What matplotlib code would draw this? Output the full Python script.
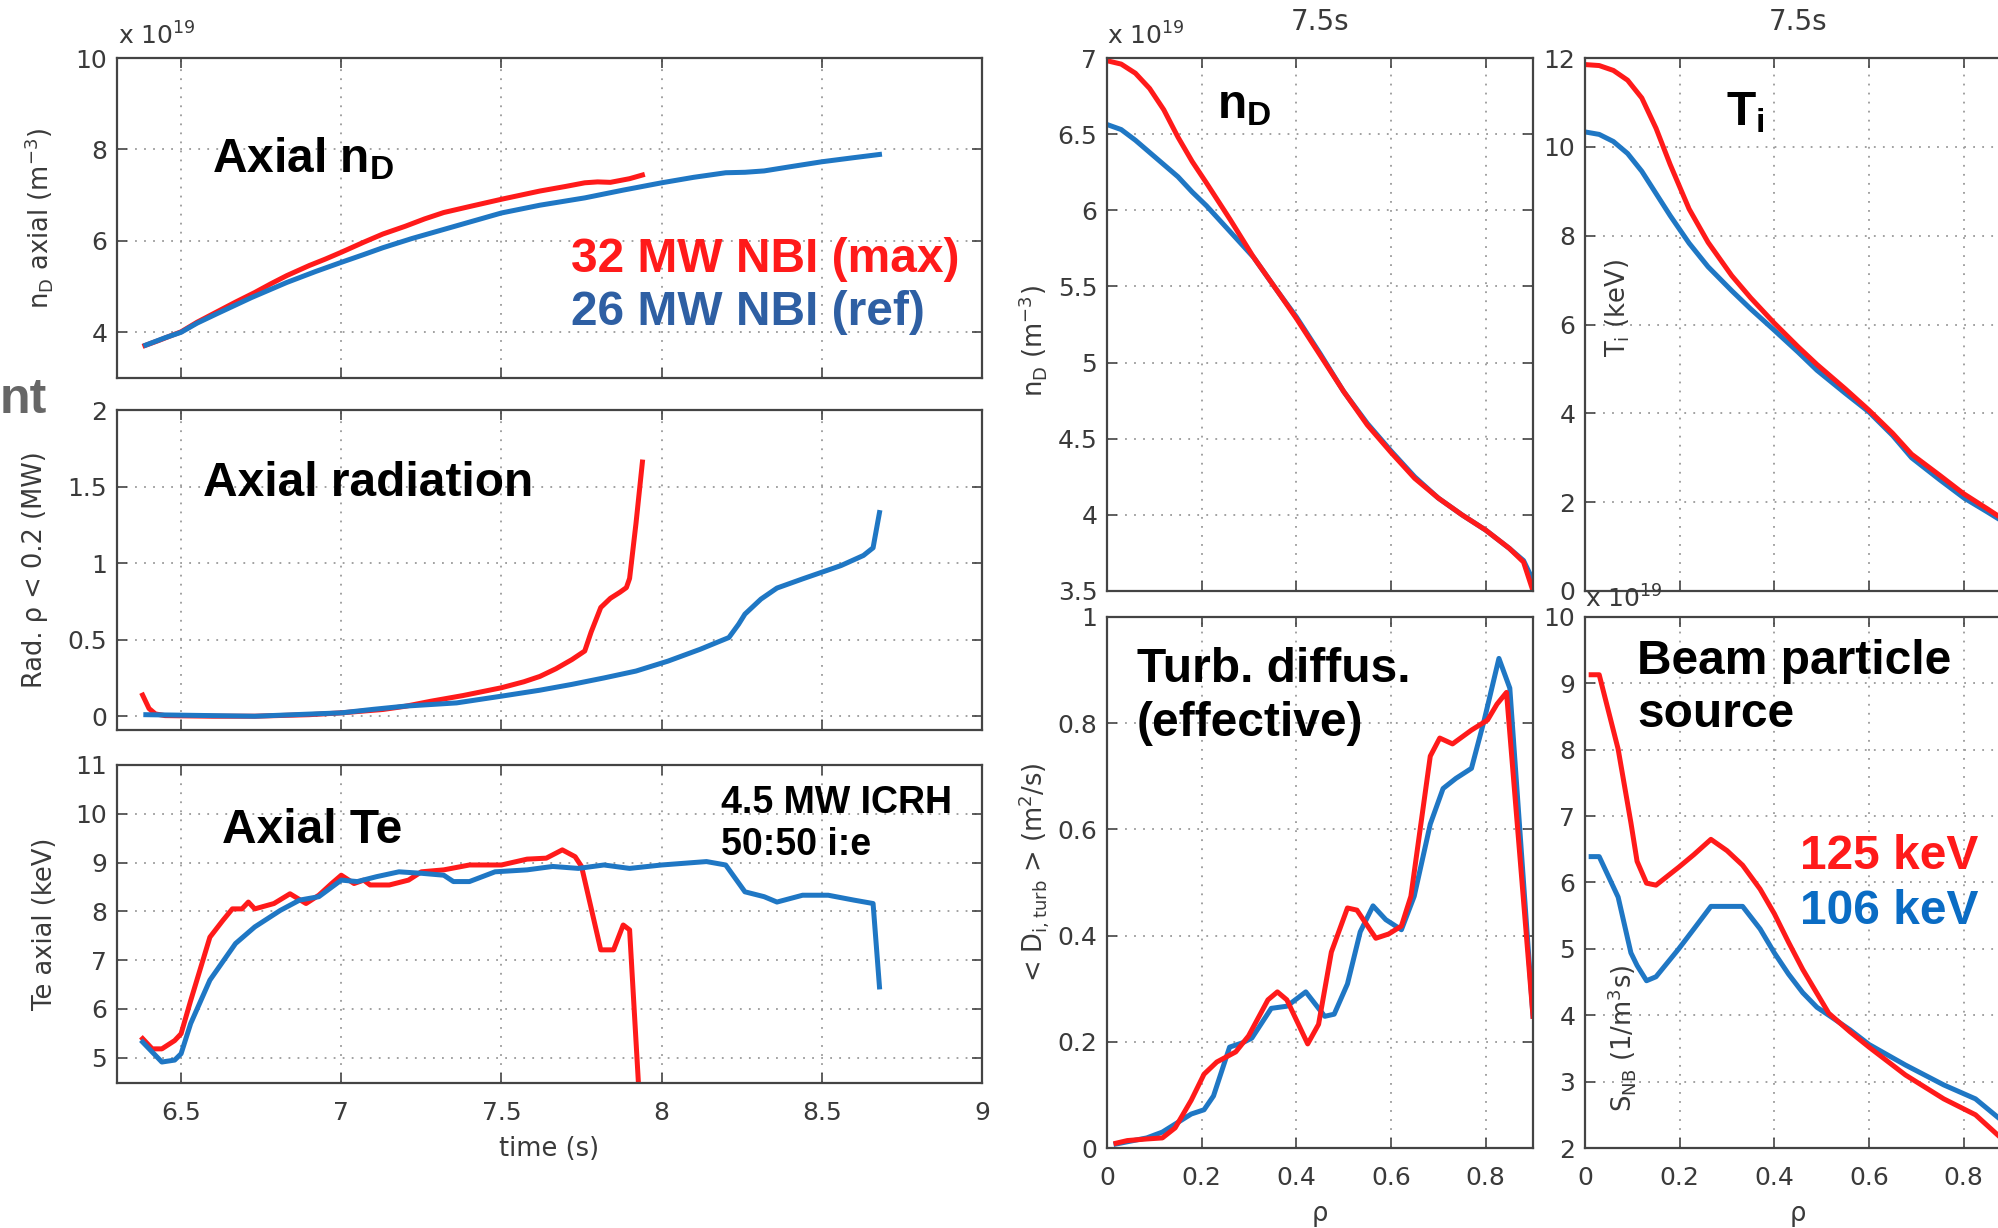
import matplotlib
matplotlib.use("Agg")
import matplotlib.pyplot as plt
from matplotlib.ticker import FuncFormatter

plt.rcParams["font.family"] = ["DejaVu Sans"]
plt.rcParams["mathtext.fontset"] = "custom"
plt.rcParams["mathtext.rm"] = "DejaVu Sans"
plt.rcParams["mathtext.it"] = "DejaVu Sans:italic"
plt.rcParams["mathtext.bf"] = "Liberation Sans:bold"

RED = "#ff1a1a"
BLUE = "#1f77c4"

# ---- time traces (left column) ----
t_nd_max = [6.387, 6.43, 6.47, 6.50, 6.55, 6.61, 6.67, 6.73, 6.78, 6.83, 6.90, 6.95, 7.00, 7.07, 7.13,
            7.20, 7.26, 7.32, 7.40, 7.50, 7.56, 7.62, 7.70, 7.76, 7.80, 7.84, 7.90, 7.94]
nd_max = [3.71, 3.82, 3.93, 4.01, 4.22, 4.44, 4.66, 4.87, 5.06, 5.24, 5.46, 5.60, 5.75, 5.97, 6.15,
          6.32, 6.48, 6.62, 6.75, 6.91, 7.00, 7.09, 7.19, 7.27, 7.29, 7.28, 7.36, 7.44]
t_nd_ref = [6.39, 6.45, 6.50, 6.55, 6.61, 6.72, 6.83, 6.92, 7.00, 7.07, 7.13, 7.22, 7.32, 7.41, 7.50,
            7.62, 7.76, 7.88, 8.00, 8.10, 8.20, 8.26, 8.32, 8.40, 8.50, 8.60, 8.68]
nd_ref = [3.72, 3.88, 4.00, 4.20, 4.40, 4.76, 5.09, 5.33, 5.53, 5.70, 5.85, 6.05, 6.25, 6.43, 6.61,
          6.78, 6.94, 7.11, 7.27, 7.39, 7.49, 7.50, 7.53, 7.62, 7.73, 7.82, 7.89]

t_rad_max = [6.38, 6.40, 6.42, 6.45, 6.60, 6.73, 6.90, 7.00, 7.13, 7.20, 7.28, 7.38, 7.50, 7.57, 7.62,
             7.67, 7.72, 7.76, 7.78, 7.81, 7.84, 7.87, 7.89, 7.90, 7.92, 7.94]
rad_max = [0.138, 0.05, 0.015, 0.004, 0.0, 0.0, 0.01, 0.022, 0.044, 0.065, 0.098, 0.135, 0.186, 0.225,
           0.26, 0.31, 0.37, 0.426, 0.55, 0.71, 0.77, 0.81, 0.84, 0.90, 1.26, 1.66]
t_rad_ref = [6.39, 6.73, 7.00, 7.10, 7.20, 7.36, 7.50, 7.62, 7.72, 7.82, 7.92, 8.02, 8.12, 8.21, 8.24,
             8.26, 8.31, 8.36, 8.44, 8.56, 8.63, 8.66, 8.68]
rad_ref = [0.01, 0.0, 0.022, 0.045, 0.066, 0.087, 0.131, 0.17, 0.208, 0.25, 0.295, 0.36, 0.437, 0.514,
           0.60, 0.667, 0.765, 0.837, 0.897, 0.984, 1.05, 1.10, 1.33]

t_te_max = [6.38, 6.41, 6.44, 6.48, 6.50, 6.53, 6.59, 6.63, 6.66, 6.69, 6.71, 6.73, 6.79, 6.84, 6.89, 6.93,
            6.97, 7.00, 7.04, 7.07, 7.09, 7.15, 7.21, 7.25, 7.32, 7.40, 7.50, 7.58, 7.64, 7.69, 7.73, 7.75,
            7.81, 7.85, 7.88, 7.90, 7.93]
te_max = [5.39, 5.18, 5.18, 5.35, 5.49, 6.17, 7.47, 7.81, 8.05, 8.05, 8.19, 8.05, 8.16, 8.36, 8.16, 8.33,
          8.57, 8.74, 8.57, 8.64, 8.54, 8.54, 8.64, 8.81, 8.85, 8.95, 8.95, 9.07, 9.09, 9.26, 9.12, 8.92,
          7.21, 7.21, 7.72, 7.62, 4.2]
t_te_ref = [6.38, 6.44, 6.48, 6.50, 6.53, 6.59, 6.67, 6.73, 6.81, 6.87, 6.93, 7.00, 7.05, 7.11, 7.18, 7.25,
            7.32, 7.35, 7.40, 7.48, 7.58, 7.66, 7.74, 7.82, 7.90, 8.00, 8.08, 8.14, 8.20, 8.26, 8.32, 8.36,
            8.44, 8.52, 8.60, 8.66, 8.68]
te_ref = [5.32, 4.91, 4.95, 5.08, 5.70, 6.59, 7.34, 7.68, 8.02, 8.23, 8.30, 8.64, 8.61, 8.71, 8.81, 8.78,
          8.74, 8.61, 8.61, 8.81, 8.85, 8.92, 8.88, 8.95, 8.88, 8.95, 8.99, 9.02, 8.95, 8.40, 8.30, 8.19,
          8.33, 8.33, 8.23, 8.16, 6.45]

# ---- profiles at 7.5 s (right columns) ----
rho_nd = [0.003, 0.03, 0.06, 0.09, 0.12, 0.15, 0.18, 0.21, 0.26, 0.31, 0.36, 0.40, 0.45, 0.50, 0.55,
          0.60, 0.65, 0.70, 0.75, 0.80, 0.85, 0.88, 0.90]
nd_prof_max = [6.98, 6.96, 6.90, 6.80, 6.66, 6.48, 6.32, 6.18, 5.94, 5.69, 5.47, 5.29, 5.05, 4.81, 4.59,
               4.41, 4.24, 4.11, 4.00, 3.90, 3.78, 3.69, 3.50]
nd_prof_ref = [6.56, 6.53, 6.46, 6.38, 6.30, 6.22, 6.12, 6.03, 5.86, 5.69, 5.47, 5.30, 5.06, 4.81, 4.60,
               4.42, 4.25, 4.11, 4.00, 3.90, 3.78, 3.70, 3.57]

rho_ti = [0.003, 0.03, 0.06, 0.09, 0.12, 0.15, 0.18, 0.22, 0.26, 0.31, 0.35, 0.40, 0.45, 0.49, 0.55,
          0.60, 0.65, 0.69, 0.75, 0.80, 0.85, 0.90]
ti_max = [11.85, 11.83, 11.72, 11.50, 11.10, 10.42, 9.60, 8.60, 7.85, 7.10, 6.60, 6.03, 5.50, 5.10, 4.55,
          4.07, 3.55, 3.08, 2.60, 2.19, 1.85, 1.50]
ti_ref = [10.33, 10.28, 10.12, 9.85, 9.45, 8.95, 8.45, 7.83, 7.30, 6.76, 6.35, 5.87, 5.38, 4.97, 4.45,
          4.03, 3.50, 3.00, 2.50, 2.10, 1.78, 1.45]

rho_d_max = [0.019, 0.043, 0.084, 0.117, 0.144, 0.178, 0.205, 0.232, 0.272, 0.299, 0.34, 0.36, 0.38, 0.424,
             0.447, 0.474, 0.508, 0.528, 0.568, 0.595, 0.622, 0.642, 0.683, 0.703, 0.73, 0.77, 0.804,
             0.824, 0.844, 0.90]
d_max = [0.009, 0.014, 0.017, 0.019, 0.038, 0.09, 0.139, 0.162, 0.181, 0.211, 0.279, 0.294, 0.279, 0.196,
         0.233, 0.369, 0.452, 0.448, 0.395, 0.403, 0.418, 0.474, 0.738, 0.772, 0.761, 0.787, 0.806,
         0.836, 0.858, 0.248]
rho_d_ref = [0.019, 0.084, 0.117, 0.178, 0.205, 0.225, 0.259, 0.286, 0.306, 0.347, 0.38, 0.42, 0.46, 0.48,
             0.508, 0.535, 0.562, 0.589, 0.622, 0.649, 0.683, 0.71, 0.737, 0.77, 0.797, 0.828, 0.851, 0.90]
d_ref = [0.0075, 0.019, 0.030, 0.064, 0.072, 0.098, 0.19, 0.198, 0.207, 0.263, 0.267, 0.294, 0.248, 0.252,
         0.309, 0.407, 0.456, 0.43, 0.411, 0.474, 0.61, 0.677, 0.696, 0.715, 0.806, 0.922, 0.866, 0.248]

rho_s = [0.013, 0.03, 0.07, 0.097, 0.11, 0.13, 0.15, 0.198, 0.23, 0.266, 0.30, 0.333, 0.37, 0.40, 0.43,
         0.46, 0.49, 0.515, 0.56, 0.60, 0.677, 0.758, 0.825, 0.876, 0.90]
s_125 = [9.13, 9.13, 8.01, 6.9, 6.32, 5.99, 5.96, 6.23, 6.42, 6.65, 6.48, 6.26, 5.90, 5.53, 5.10,
         4.69, 4.33, 4.03, 3.75, 3.52, 3.10, 2.74, 2.50, 2.17, 2.0]
s_106 = [6.39, 6.39, 5.78, 4.94, 4.75, 4.52, 4.58, 5.00, 5.30, 5.64, 5.64, 5.64, 5.30, 4.94, 4.62,
         4.34, 4.12, 4.00, 3.78, 3.56, 3.25, 2.95, 2.74, 2.44, 2.3]

time_ticks = [6.5, 7, 7.5, 8, 8.5, 9]
rho_ticks = [0, 0.2, 0.4, 0.6, 0.8]

W, H = 1999, 1228
fig = plt.figure(figsize=(W / 100, H / 100), dpi=100)


def add_px_axes(x0, y0, x1, y1):
    return fig.add_axes([x0 / W, 1 - y1 / H, (x1 - x0) / W, (y1 - y0) / H])


gfmt = FuncFormatter(lambda v, p: "%g" % v)
LAB = 18.5
GRAY = "#3a3a3a"


def style(ax, xlabels=False, xpad=13):
    for s in ax.spines.values():
        s.set_color("#444444")
        s.set_linewidth(1.6)
    ax.tick_params(direction="in", top=True, right=True, length=7, width=1.2,
                   color="#444444", labelcolor=GRAY, labelsize=18)
    ax.tick_params(axis="x", pad=xpad)
    ax.tick_params(axis="y", pad=7)
    ax.grid(True, color="#9a9a9a", linestyle=(0, (1, 4)), linewidth=1.3)
    ax.yaxis.set_major_formatter(gfmt)
    ax.xaxis.set_major_formatter(gfmt)
    if not xlabels:
        ax.set_xticklabels([])


def note(ax, x, y, s, color="black", size=34.5):
    ax.text(x, y, s, transform=ax.transAxes, color=color, fontsize=size,
            family="Liberation Sans", weight="bold", va="baseline", ha="left")


lw = 3.6

# top-left: axial nD
ax1 = add_px_axes(117, 58, 982, 378)
ax1.plot(t_nd_max, nd_max, color=RED, lw=lw)
ax1.plot(t_nd_ref, nd_ref, color=BLUE, lw=lw)
ax1.set_xlim(6.3, 9)
ax1.set_ylim(3, 10)
ax1.set_xticks(time_ticks)
ax1.set_yticks([4, 6, 8, 10])
style(ax1)
ax1.set_ylabel(r"n$_\mathrm{D}$ axial (m$^{-3}$)", fontsize=LAB, color=GRAY)
ax1.yaxis.set_label_coords(-0.072, 0.5)
fig.text(118 / W, 1 - 45 / H, r"x 10$^{19}$", fontsize=18, color=GRAY, va="baseline")
note(ax1, 0.110, 0.644, r"Axial n$_\mathbf{D}$")
note(ax1, 0.525, 0.331, "32 MW NBI (max)", color=RED)
note(ax1, 0.525, 0.166, "26 MW NBI (ref)", color="#2e5fa3")

# middle-left: axial radiation
ax2 = add_px_axes(117, 410, 982, 730)
ax2.plot(t_rad_max, rad_max, color=RED, lw=lw)
ax2.plot(t_rad_ref, rad_ref, color=BLUE, lw=lw)
ax2.set_xlim(6.3, 9)
ax2.set_ylim(-0.09, 2)
ax2.set_xticks(time_ticks)
ax2.set_yticks([0, 0.5, 1, 1.5, 2])
style(ax2)
ax2.set_ylabel("Rad. \u03c1 < 0.2 (MW)", fontsize=LAB, color=GRAY)
ax2.yaxis.set_label_coords(-0.08, 0.5)
note(ax2, 0.0994, 0.731, "Axial radiation")

# bottom-left: axial Te
ax3 = add_px_axes(117, 765, 982, 1083)
ax3.plot(t_te_max, te_max, color=RED, lw=lw)
ax3.plot(t_te_ref, te_ref, color=BLUE, lw=lw)
ax3.set_xlim(6.3, 9)
ax3.set_ylim(4.48, 11)
ax3.set_xticks(time_ticks)
ax3.set_yticks([5, 6, 7, 8, 9, 10, 11])
style(ax3, xlabels=True)
ax3.set_ylabel("Te axial (keV)", fontsize=LAB, color=GRAY)
ax3.yaxis.set_label_coords(-0.068, 0.5)
ax3.set_xlabel("time (s)", fontsize=LAB, color=GRAY, labelpad=8)
note(ax3, 0.121, 0.755, "Axial Te")
note(ax3, 0.698, 0.849, "4.5 MW ICRH", size=27)
note(ax3, 0.698, 0.717, "50:50 i:e", size=27)

# top-right: nD profile
ax4 = add_px_axes(1107, 58, 1533, 591)
ax4.plot(rho_nd, nd_prof_ref, color=BLUE, lw=lw)
ax4.plot(rho_nd, nd_prof_max, color=RED, lw=lw)
ax4.set_xlim(0, 0.9)
ax4.set_ylim(3.5, 7)
ax4.set_xticks(rho_ticks)
ax4.set_yticks([3.5, 4, 4.5, 5, 5.5, 6, 6.5, 7])
style(ax4)
ax4.set_title("7.5s", fontsize=20, color=GRAY, pad=20)
ax4.set_ylabel(r"n$_\mathrm{D}$ (m$^{-3}$)", fontsize=LAB, color=GRAY)
ax4.yaxis.set_label_coords(-0.135, 0.469)
fig.text(1107 / W, 1 - 45 / H, r"x 10$^{19}$", fontsize=18, color=GRAY, va="baseline")
note(ax4, 0.258, 0.887, r"n$_\mathbf{D}$")

# top-right 2: Ti profile
ax5 = add_px_axes(1585, 58, 2011, 591)
ax5.plot(rho_ti, ti_ref, color=BLUE, lw=lw)
ax5.plot(rho_ti, ti_max, color=RED, lw=lw)
ax5.set_xlim(0, 0.9)
ax5.set_ylim(0, 12)
ax5.set_xticks(rho_ticks)
ax5.set_yticks([0, 2, 4, 6, 8, 10, 12])
style(ax5)
ax5.set_title("7.5s", fontsize=20, color=GRAY, pad=20)
ax5.set_ylabel(r"T$_\mathrm{i}$ (keV)", fontsize=LAB, color=GRAY)
ax5.yaxis.set_label_coords(0.11, 0.531)
note(ax5, 0.331, 0.874, r"T$_\mathbf{i}$")

# bottom-right: turbulent diffusivity
ax6 = add_px_axes(1107, 617, 1533, 1148)
ax6.plot(rho_d_ref, d_ref, color=BLUE, lw=lw)
ax6.plot(rho_d_max, d_max, color=RED, lw=lw)
ax6.set_xlim(0, 0.9)
ax6.set_ylim(0, 1)
ax6.set_xticks(rho_ticks)
ax6.set_yticks([0, 0.2, 0.4, 0.6, 0.8, 1])
style(ax6, xlabels=True)
ax6.set_xlabel("\u03c1", fontsize=LAB, color=GRAY, labelpad=8)
ax6.set_ylabel(r"< D$_\mathrm{i,turb}$ > (m$^2$/s)", fontsize=LAB, color=GRAY)
ax6.yaxis.set_label_coords(-0.132, 0.52)
note(ax6, 0.070, 0.878, "Turb. diffus.")
note(ax6, 0.070, 0.776, "(effective)")

# bottom-right 2: beam particle source
ax7 = add_px_axes(1585, 617, 2011, 1148)
ax7.plot(rho_s, s_106, color=BLUE, lw=lw)
ax7.plot(rho_s, s_125, color=RED, lw=lw)
ax7.set_xlim(0, 0.9)
ax7.set_ylim(2, 10)
ax7.set_xticks(rho_ticks)
ax7.set_yticks([2, 3, 4, 5, 6, 7, 8, 9, 10])
style(ax7, xlabels=True)
ax7.set_xlabel("\u03c1", fontsize=LAB, color=GRAY, labelpad=8)
ax7.set_ylabel(r"S$_\mathrm{NB}$ (1/m$^3$s)", fontsize=LAB, color=GRAY)
ax7.yaxis.set_label_coords(0.125, 0.207)
fig.text(1585 / W, 1 - 608 / H, r"x 10$^{19}$", fontsize=18, color=GRAY, va="baseline")
note(ax7, 0.122, 0.893, "Beam particle")
note(ax7, 0.122, 0.793, "source")
note(ax7, 0.505, 0.525, "125 keV", color=RED)
note(ax7, 0.505, 0.422, "106 keV", color="#0a6cc4")

# leftover fragment of a cropped heading
fig.text(0, 1 - 413 / H, "nt", fontsize=36, family="Liberation Sans", weight="bold",
         color="#666666", va="baseline")

fig.savefig("out.png", dpi=100)
